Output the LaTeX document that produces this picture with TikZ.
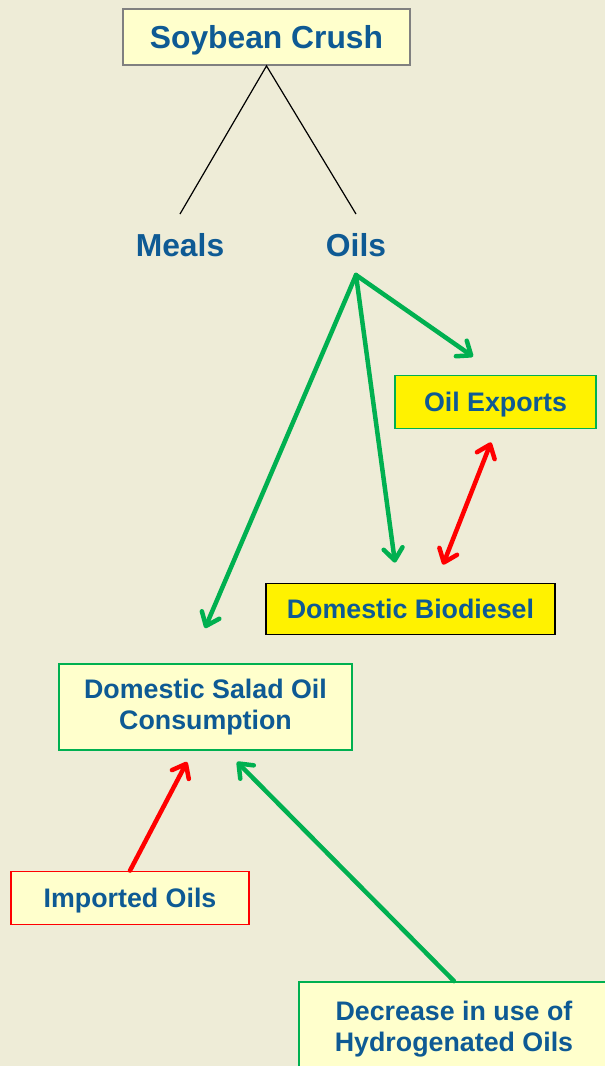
\documentclass[tikz,border=0pt]{standalone}
\usepackage{fontspec}
\setmainfont{Liberation Sans}
\usetikzlibrary{arrows.meta}
\definecolor{bg}{HTML}{EEECD7}
\definecolor{lightyel}{HTML}{FFFFCC}
\definecolor{txtblue}{HTML}{0E5A94}
\definecolor{grn}{HTML}{00B050}
\definecolor{rd}{HTML}{FF0000}
\tikzset{
  box/.style={draw, line width=1.8pt, fill=lightyel, align=center, text=txtblue,
    font=\bfseries\fontsize{26.8}{31.5}\selectfont, inner sep=0pt},
  lbl/.style={text=txtblue, font=\bfseries\fontsize{31.8}{36}\selectfont, inner sep=0pt},
  garrow/.style={draw=grn, line width=4.5pt, line cap=round, -{Straight Barb[length=12pt,width=19pt,line width=4.5pt,round]}},
  rarrow/.style={draw=rd, line width=4.5pt, line cap=round, -{Straight Barb[length=12pt,width=19pt,line width=4.5pt,round]}},
  rdarrow/.style={draw=rd, line width=4.5pt, line cap=round, {Straight Barb[length=12pt,width=19pt,line width=4.5pt,round]}-{Straight Barb[length=12pt,width=19pt,line width=4.5pt,round]}},
}
\begin{document}
\begin{tikzpicture}[x=1pt,y=-1pt]
\fill[bg] (0,0) rectangle (605,1066);
\useasboundingbox (0,0) rectangle (605,1066);

\node[box, draw=gray, minimum width=287pt, minimum height=56pt, text depth=0pt,
  font=\bfseries\fontsize{31.8}{36}\selectfont] (soy) at (266.5,37) {Soybean Crush};
\node[lbl] (meals) at (180,245) {Meals};
\node[lbl] (oils) at (356,245) {Oils};

\node[box, draw=grn, fill=yellow, minimum width=201pt, minimum height=53pt, text depth=0pt] (exp) at (495.5,402) {Oil Exports};
\node[box, draw=black, fill=yellow, minimum width=289pt, minimum height=51pt] (bio) at (410.5,609) {Domestic Biodiesel};
\node[box, draw=grn, minimum width=293pt, minimum height=86pt] (salad) at (205.5,707) {Domestic Salad Oil\\Consumption};
\node[box, draw=rd, minimum width=238pt, minimum height=53pt, text depth=0pt] (imp) at (130,898) {Imported Oils};
\node[box, draw=grn, minimum width=310pt, minimum height=94pt] (dec) at (454,1029) {Decrease in use of\\Hydrogenated Oils};

\draw[line width=1.2pt] ([shift={(0,-31)}]meals.center) -- (soy.south) -- ([shift={(0,-31)}]oils.center);

\draw[garrow] ([shift={(0,30)}]oils.center) -- ([shift={(-22.5,-18)}]exp.north);
\draw[garrow] ([shift={(0,30)}]oils.center) -- ([shift={(-15.5,-20)}]bio.north);
\draw[garrow] ([shift={(0,30)}]oils.center) -- ([shift={(-0.5,-35)}]salad.north);
\draw[rdarrow] ([shift={(-4.5,13)}]exp.south) -- ([shift={(32.5,-18)}]bio.north);
\draw[rarrow] (imp.north) -- ([shift={(-18.5,11)}]salad.south);
\draw[garrow] (dec.north) -- ([shift={(31.5,11)}]salad.south);
\end{tikzpicture}
\end{document}
